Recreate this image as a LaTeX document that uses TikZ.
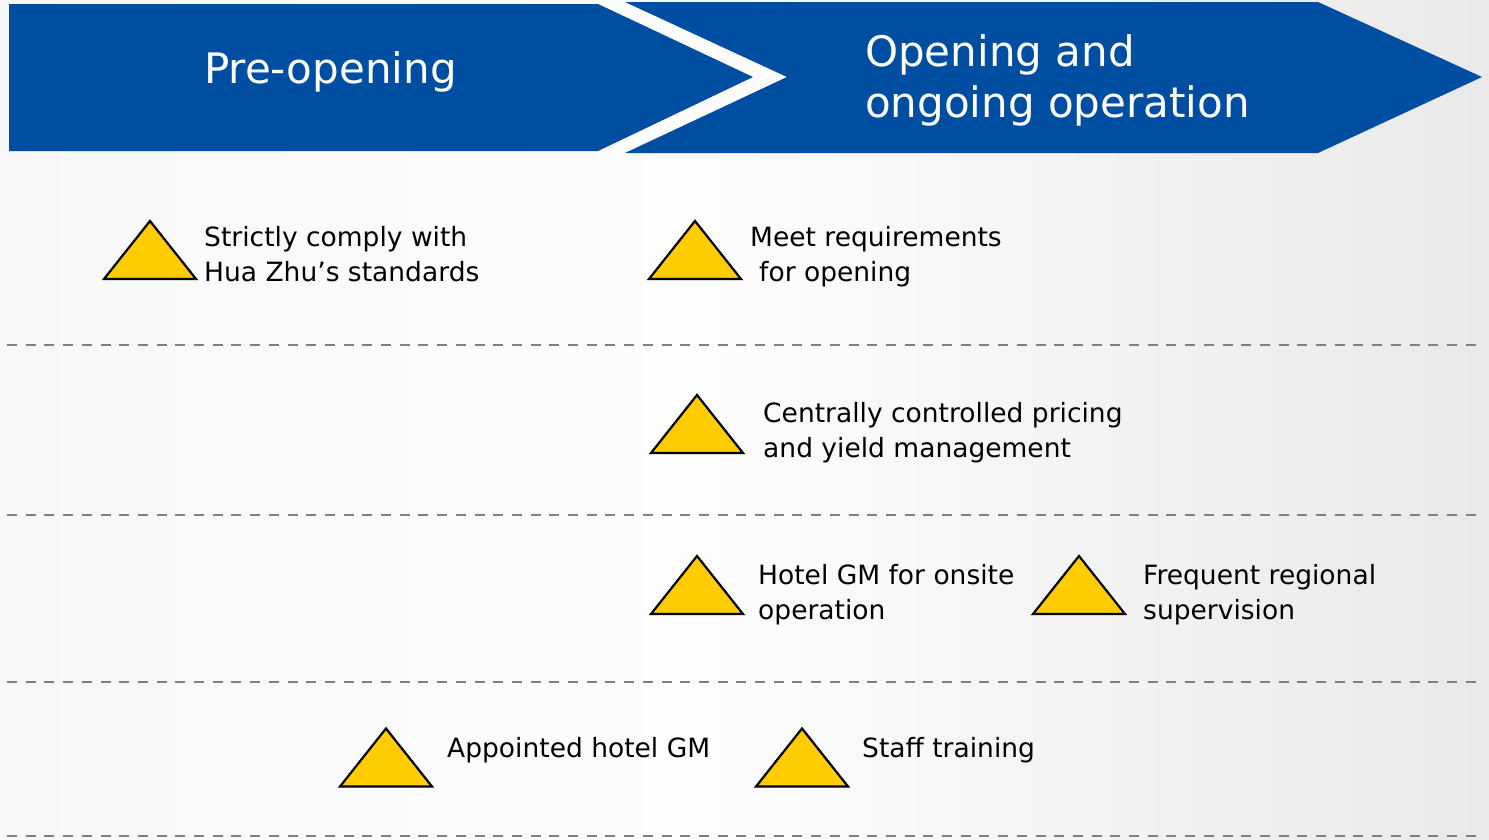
\documentclass[tikz,border=0pt]{standalone}
\usepackage{fontspec}
\setmainfont{DejaVu Sans}
\definecolor{bannerblue}{RGB}{0,78,162}
\definecolor{triyellow}{RGB}{255,204,0}
\definecolor{dashgray}{RGB}{128,128,128}
\definecolor{bgleft}{RGB}{247,247,247}
\definecolor{bgmid}{RGB}{253,253,253}
\definecolor{bgright}{RGB}{233,233,233}
\begin{document}
\begin{tikzpicture}[x=1bp,y=-1bp,
  banner/.style={fill=bannerblue},
  headtext/.style={text=white,font=\fontsize{42bp}{51bp}\selectfont,align=left,inner sep=0},
  label/.style={font=\fontsize{26.5bp}{35bp}\selectfont,align=left,anchor=west,inner sep=0,text=black},
  sepline/.style={draw=dashgray,line width=2.5bp,dash pattern=on 10bp off 8.7bp},
  tri/.pic={\draw[fill=triyellow,draw=black,line width=2.2bp,line join=miter] (-46,29) -- (0,-29) -- (46,29) -- cycle;}]
\useasboundingbox (0,0) rectangle (1489,839);
\shade[left color=bgleft, right color=bgmid] (0,0) rectangle (700,839);
\shade[left color=bgmid, right color=bgright] (700,0) rectangle (1489,839);
% banners
\fill[banner] (9,4) -- (598,4) -- (753,77) -- (598,151) -- (9,151) -- cycle;
\fill[banner] (625,2) -- (1318,2) -- (1482,77) -- (1318,153) -- (625,153) -- (787,77) -- cycle;
\node[headtext,anchor=base west] (pre) at (204,83) {Pre-opening};
\node[headtext,anchor=west] (open) at (865,81.3) {\strut Opening and\\\strut ongoing operation};
% separators
\foreach \yy/\nm in {345/a,515/b,682/c,836/d}{
  \coordinate (s\nm l) at (7,\yy);
  \coordinate (s\nm r) at (1482,\yy);
  \draw[sepline] (s\nm l) -- (s\nm r);
}
% triangles
\pic at (150,250) {tri};
\pic at (695,250) {tri};
\pic at (697,424) {tri};
\pic at (697,585) {tri};
\pic at (1079,585) {tri};
\pic at (386,757.5) {tri};
\pic at (802,757.5) {tri};
% labels
\node[label] (t1) at (204,257) {\strut Strictly comply with\\\strut Hua Zhu’s standards};
\node[label] (t2) at (750,257) {\strut Meet requirements\\\strut\hspace*{9bp}for opening};
\node[label] (t3) at (763,433) {\strut Centrally controlled pricing\\\strut and yield management};
\node[label] (t4) at (758,595) {\strut Hotel GM for onsite\\\strut operation};
\node[label] (t5) at (1143,595) {\strut Frequent regional\\\strut supervision};
\node[label] (t6) at (447,750) {\strut Appointed hotel GM};
\node[label] (t7) at (862,750.5) {\strut Staff training};
\end{tikzpicture}
\end{document}
